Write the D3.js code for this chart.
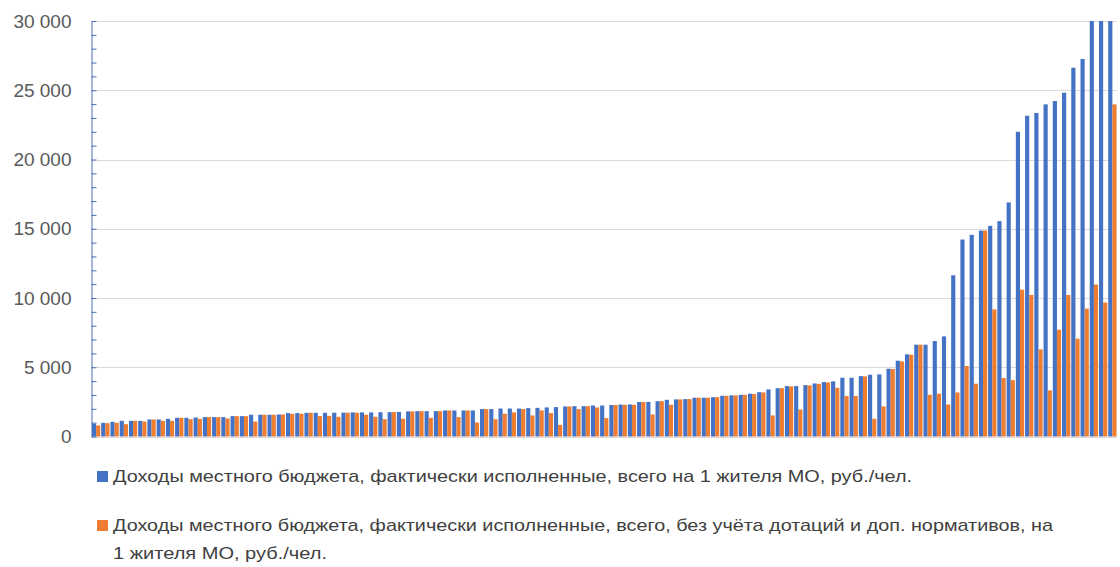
<!DOCTYPE html>
<html>
<head>
<meta charset="utf-8">
<script src="https://cdn.jsdelivr.net/npm/d3@7"></script>
<style>
  html, body { margin: 0; padding: 0; background: #fff; }
  svg { display: block; }
  .tick text { font-family: "Liberation Sans", Arial, sans-serif; }
</style>
</head>
<body>
<svg id="chart" width="1120" height="567"></svg>
<script>
// Доходы на 1 жителя МО, руб./чел. (муниципалитеты отсортированы по общим доходам)
var totalIncome = [
  920, 990, 1060, 1130, 1130, 1130, 1230, 1230, 1280, 1350,
  1350, 1370, 1400, 1400, 1400, 1470, 1470, 1570, 1570, 1570,
  1590, 1690, 1690, 1710, 1710, 1710, 1720, 1720, 1740, 1740,
  1740, 1750, 1760, 1770, 1810, 1830, 1830, 1830, 1880, 1880,
  1880, 1880, 1980, 1980, 2020, 2020, 2020, 2050, 2070, 2100,
  2120, 2170, 2190, 2190, 2240, 2240, 2270, 2310, 2310, 2490,
  2500, 2550, 2650, 2680, 2700, 2800, 2800, 2840, 2940, 2970,
  3010, 3090, 3200, 3400, 3490, 3640, 3640, 3710, 3830, 3930,
  3980, 4240, 4240, 4360, 4460, 4480, 4890, 5470, 5930, 6630,
  6630, 6890, 7230, 11640, 14220, 14560, 14870, 15210, 15550, 16900,
  22000, 23160, 23360, 23980, 24220, 24820, 26630, 27260, 31500, 34000,
  38000
];
var ownIncome = [
  800, 960, 990, 890, 1130, 1080, 1230, 1130, 1130, 1350,
  1250, 1280, 1400, 1400, 1300, 1470, 1470, 1080, 1570, 1570,
  1590, 1640, 1640, 1710, 1470, 1490, 1420, 1720, 1710, 1570,
  1420, 1250, 1760, 1280, 1810, 1830, 1350, 1830, 1880, 1400,
  1880, 1010, 1980, 1250, 1640, 1740, 1980, 1520, 1880, 1690,
  840, 2170, 1980, 2190, 2100, 1330, 2270, 2290, 2290, 2490,
  1590, 2550, 2290, 2680, 2700, 2800, 2800, 2840, 2940, 2970,
  3010, 3070, 3180, 1520, 3490, 3620, 1950, 3690, 3800, 3900,
  3520, 2920, 2920, 4340, 1280, 2170, 4870, 5420, 5900, 6630,
  3010, 3090, 2310, 3180, 5090, 3810, 14870, 9180, 4220, 4070,
  10600, 10220, 6290, 3330, 7710, 10220, 7060, 9230, 10970, 9670,
  23980
];
var categories = totalIncome.map(function(d, i) { return "МО " + (i + 1); });
var seriesNames = [
  "Доходы местного бюджета, фактически исполненные, всего на 1 жителя МО, руб./чел.",
  "Доходы местного бюджета, фактически исполненные, всего, без учёта дотаций и доп. нормативов, на|1 жителя МО, руб./чел."
];
var seriesColors = ["#4472C4", "#ED7D31"];
var yTicks = [0, 5000, 10000, 15000, 20000, 25000, 30000];

var svg = d3.select("#chart");
var plotLeft = 91.5, plotRight = 1117, plotTop = 21, plotBottom = 436.5;

var rows = categories.map(function(c, i) {
  return { name: c, values: [totalIncome[i], ownIncome[i]] };
});

var x0 = d3.scaleBand().domain(categories).range([plotLeft, plotRight])
  .paddingInner(0.1).paddingOuter(0.05);
var x1 = d3.scaleBand().domain([0, 1]).range([0, x0.bandwidth()]);
var y = d3.scaleLinear().domain([0, 30000]).range([plotBottom, plotTop]).clamp(true);

var fmt = d3.formatLocale({ decimal: ",", thousands: " ", grouping: [3], currency: ["", ""] }).format(",");

// gridlines
svg.append("g").selectAll("line")
  .data(yTicks)
  .enter().append("line")
  .attr("x1", plotLeft).attr("x2", plotRight)
  .attr("y1", function(d) { return Math.round(y(d)) + 0.5; })
  .attr("y2", function(d) { return Math.round(y(d)) + 0.5; })
  .attr("stroke", "#d9d9d9").attr("stroke-width", 1);

// bars
var g = svg.append("g").selectAll("g")
  .data(rows)
  .enter().append("g")
  .attr("transform", function(d) { return "translate(" + x0(d.name) + ",0)"; });

g.selectAll("rect")
  .data(function(d) { return d.values; })
  .enter().append("rect")
  .attr("x", function(d, i) { return x1(i); })
  .attr("width", x1.bandwidth())
  .attr("y", function(d) { return y(d); })
  .attr("height", function(d) { return plotBottom - y(d); })
  .attr("fill", function(d, i) { return seriesColors[i]; });

// y axis: minor ticks every 1000 pointing inside
var minor = svg.append("g")
  .attr("transform", "translate(" + plotLeft + ",0)")
  .call(d3.axisLeft(y).tickValues(d3.range(0, 30001, 1000)).tickSizeInner(-5).tickSizeOuter(0).tickFormat(""));
minor.select(".domain").attr("stroke", "#4a6fb5");
minor.selectAll(".tick line").attr("stroke", "#4a6fb5");

var labels = svg.append("g")
  .attr("transform", "translate(" + plotLeft + ",0)")
  .call(d3.axisLeft(y).tickValues(yTicks).tickSize(0).tickPadding(20).tickFormat(fmt));
labels.select(".domain").remove();
labels.selectAll(".tick text")
  .attr("font-size", 19)
  .attr("fill", "#595959");

// legend
var legend = [
  { lines: seriesNames[0].split("|"), y: 471, widths: [799] },
  { lines: seriesNames[1].split("|"), y: 520, widths: [940, 214] }
];
legend.forEach(function(item, i) {
  svg.append("rect")
    .attr("x", 97).attr("y", item.y)
    .attr("width", 11).attr("height", 11)
    .attr("fill", seriesColors[i]);
  item.lines.forEach(function(line, j) {
    svg.append("text")
      .attr("x", 113)
      .attr("y", item.y + 11 + j * 28)
      .attr("font-family", "'Liberation Sans', Arial, sans-serif")
      .attr("font-size", 17)
      .attr("fill", "#404040")
      .attr("textLength", item.widths[j])
      .attr("lengthAdjust", "spacingAndGlyphs")
      .text(line);
  });
});
</script>
</body>
</html>
